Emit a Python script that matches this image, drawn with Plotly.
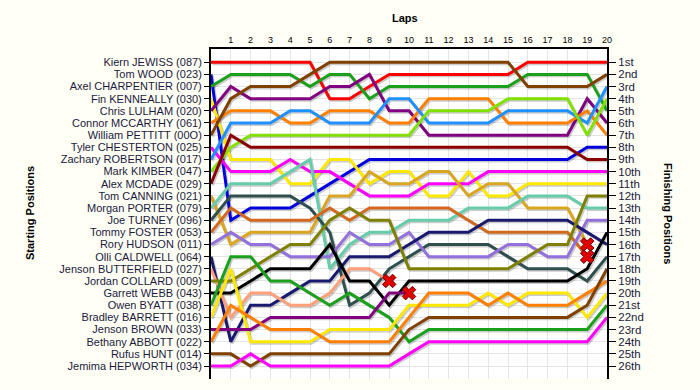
import plotly.graph_objects as go

laps = list(range(21))

drivers = [
    "Kiern JEWISS (087)", "Tom WOOD (023)", "Axel CHARPENTIER (007)", "Fin KENNEALLY (030)",
    "Chris LULHAM (020)", "Connor MCCARTHY (061)", "William PETTITT (00O)", "Tyler CHESTERTON (025)",
    "Zachary ROBERTSON (017)", "Mark KIMBER (047)", "Alex MCDADE (029)", "Tom CANNING (021)",
    "Morgan PORTER (079)", "Joe TURNEY (096)", "Tommy FOSTER (053)", "Rory HUDSON (011)",
    "Olli CALDWELL (064)", "Jenson BUTTERFIELD (027)", "Jordan COLLARD (009)", "Garrett WEBB (043)",
    "Owen BYATT (038)", "Bradley BARRETT (016)", "Jenson BROWN (033)", "Bethany ABBOTT (022)",
    "Rufus HUNT (014)", "Jemima HEPWORTH (034)",
]

finish_labels = ["1st", "2nd", "3rd", "4th", "5th", "6th", "7th", "8th", "9th", "10th",
                 "11th", "12th", "13th", "14th", "15th", "16th", "17th", "18th", "19th",
                 "20th", "21st", "22nd", "23rd", "24th", "25th", "26th"]

# position per lap (lap 0 .. last lap completed / retirement lap)
pos_jewiss = [1, 1, 1, 1, 1, 1, 4, 4, 3, 2, 2, 2, 2, 2, 2, 2, 1, 1, 1, 1, 1]
pos_wood = [2, 14, 13, 13, 13, 12, 11, 10, 9, 9, 9, 9, 9, 9, 9, 9, 9, 9, 9, 8, 8]
pos_charpentier = [3, 2, 2, 2, 2, 3, 2, 2, 4, 3, 3, 3, 3, 3, 3, 3, 2, 2, 2, 2, 5]
pos_kenneally = [4, 9, 9, 9, 11, 11, 9, 9, 11, 10, 10, 12, 12, 10, 12, 12, 11, 11, 11, 11, 11]
pos_lulham = [5, 3, 4, 4, 4, 4, 3, 3, 2, 5, 5, 7, 7, 7, 7, 7, 7, 7, 7, 4, 6]
pos_mccarthy = [6, 5, 5, 5, 6, 6, 5, 5, 5, 6, 6, 4, 4, 4, 4, 6, 6, 6, 6, 5, 7]
pos_pettitt = [7, 4, 3, 3, 3, 2, 1, 1, 1, 1, 1, 1, 1, 1, 1, 1, 3, 3, 3, 3, 2]
pos_chesterton = [8, 10, 10, 10, 9, 10, 10, 11, 12, 12, 12, 11, 11, 11, 10, 10, 10, 10, 10, 10, 10]
pos_robertson = [9, 6, 6, 6, 5, 5, 6, 6, 6, 4, 4, 6, 6, 6, 6, 5, 5, 5, 5, 6, 3]
pos_kimber = [10, 8, 7, 7, 7, 7, 7, 7, 7, 7, 7, 5, 5, 5, 5, 4, 4, 4, 4, 7, 4]
pos_mcdade = [11, 7, 8, 8, 8, 8, 8, 8, 8, 8, 8, 8, 8, 8, 8, 8, 8, 8, 8, 9, 9]
pos_canning = [12, 16, 15, 15, 15, 15, 12, 12, 10, 11, 11, 10, 10, 12, 11, 11, 13, 13, 13, 16]
pos_porter = [13, 11, 11, 11, 10, 9, 18, 16, 15, 15, 14, 14, 14, 13, 13, 13, 12, 12, 12, 13, 13]
pos_turney = [14, 12, 12, 12, 12, 13, 15, 21, 20, 18, 17, 16, 16, 16, 16, 17, 18, 18, 18, 19, 17]
pos_foster = [15, 13, 14, 14, 14, 14, 13, 14, 13, 13, 13, 13, 13, 14, 15, 15, 15, 15, 15, 17]
pos_hudson = [16, 15, 16, 16, 17, 17, 17, 15, 16, 16, 15, 17, 17, 17, 17, 16, 16, 17, 17, 14, 14]
pos_caldwell = [17, 24, 21, 21, 20, 19, 19, 17, 17, 17, 16, 15, 15, 15, 14, 14, 14, 14, 14, 15, 16]
pos_butterfield = [18, 22, 20, 20, 21, 21, 20, 18, 18, 19]
pos_collard = [19, 19, 18, 17, 16, 16, 14, 13, 14, 14, 18, 18, 18, 18, 18, 18, 17, 16, 16, 12, 12]
pos_webb = [20, 20, 19, 18, 18, 18, 16, 19, 19, 21, 19, 19, 19, 19, 19, 19, 19, 19, 19, 18, 15]
pos_byatt = [21, 17, 17, 19, 19, 20, 21, 20, 21, 22, 24, 23, 23, 23, 23, 23, 23, 23, 23, 23, 21]
pos_barrett = [22, 18, 24, 24, 24, 24, 23, 23, 23, 23, 21, 21, 21, 21, 20, 21, 20, 20, 20, 22, 20]
pos_brown = [23, 23, 23, 22, 22, 22, 22, 22, 22, 20, 20]
pos_abbott = [24, 21, 22, 23, 23, 23, 24, 24, 24, 24, 22, 20, 20, 20, 21, 20, 21, 21, 21, 20, 19]
pos_hunt = [25, 25, 26, 25, 25, 25, 25, 25, 25, 25, 23, 22, 22, 22, 22, 22, 22, 22, 22, 21, 18]
pos_hepworth = [26, 26, 25, 26, 26, 26, 26, 26, 26, 26, 25, 24, 24, 24, 24, 24, 24, 24, 24, 24, 22]

retired = ["Tom CANNING (021)", "Tommy FOSTER (053)", "Jenson BUTTERFIELD (027)", "Jenson BROWN (033)"]

series = [pos_jewiss, pos_wood, pos_charpentier, pos_kenneally, pos_lulham, pos_mccarthy,
          pos_pettitt, pos_chesterton, pos_robertson, pos_kimber, pos_mcdade, pos_canning,
          pos_porter, pos_turney, pos_foster, pos_hudson, pos_caldwell, pos_butterfield,
          pos_collard, pos_webb, pos_byatt, pos_barrett, pos_brown, pos_abbott, pos_hunt,
          pos_hepworth]

colors = ["#FF0000", "#0000DD", "#1AA01A", "#FFE800", "#800080", "#FF8000", "#804000", "#FF00FF",
          "#2090FF", "#80E000", "#8B0000", "#DAA520", "#66CDAA", "#2F4F4F", "#D2691E", "#9370DB",
          "#191970", "#FFA07A", "#808000", "#000000",
          "#1AA01A", "#FFE800", "#800080", "#FF8000", "#804000", "#FF00FF"]

FONT = "Liberation Sans, Arial, sans-serif"
fig = go.Figure()

# shadows
for name, p in zip(drivers, series):
    fig.add_trace(go.Scatter(
        x=[l + 0.07 for l in laps[:len(p)]], y=[v + 0.12 for v in p], mode="lines",
        line=dict(color="rgba(0,0,0,0.2)", width=3), hoverinfo="skip", showlegend=False))

for name, p, c in zip(drivers, series, colors):
    fig.add_trace(go.Scatter(
        x=laps[:len(p)], y=p, mode="lines", name=name,
        line=dict(color=c, width=3), showlegend=False))

for name, p in zip(drivers, series):
    if name in retired:
        fig.add_trace(go.Scatter(
            x=[laps[len(p) - 1]], y=[p[-1]], mode="markers",
            marker=dict(symbol="x", size=12, color="#E00000",
                        line=dict(color="#700000", width=1)),
            showlegend=False, hoverinfo="skip"))

# invisible trace for right axis
fig.add_trace(go.Scatter(x=[0], y=[1], yaxis="y2", mode="markers",
                         marker=dict(opacity=0), showlegend=False, hoverinfo="skip"))

yrange = [27.07, -0.09]
ticks = list(range(1, 27))
L, R, T, B = 211, 93, 49, 11
pw, ph = 700 - L - R, 390 - T - B

fig.update_layout(
    width=700, height=390,
    margin=dict(l=L, r=R, t=T, b=B, autoexpand=False),
    paper_bgcolor="#FFFFF5", plot_bgcolor="#FFFFFF",
    font=dict(family=FONT, color="#000000"),
    xaxis=dict(range=[0, 20], side="top", tickvals=list(range(1, 21)),
               ticktext=[str(i) for i in range(1, 21)], tickfont=dict(size=9),
               showgrid=True, gridcolor="#E4E4E4", gridwidth=1, zeroline=False, automargin=False,
               showline=True, linecolor="#000000", linewidth=2, ticks="", fixedrange=True),
    yaxis=dict(range=yrange, tickvals=ticks, ticktext=drivers, tickfont=dict(size=11, color="#1a1a40"),
               ticks="outside", ticklen=5, tickcolor="#000000", showgrid=True, gridcolor="#E4E4E4",
               zeroline=False, showline=True, linecolor="#000000", linewidth=2, automargin=False),
    yaxis2=dict(range=yrange, overlaying="y", side="right", tickvals=ticks, ticktext=finish_labels,
                tickfont=dict(size=11.5, color="#1a1a40"), ticks="outside", ticklen=7,
                tickcolor="#000000", showgrid=False, zeroline=False, showline=True, automargin=False,
                linecolor="#000000", linewidth=2),
    annotations=[
        dict(text="<b>Laps</b>", x=(405 - L) / pw, y=(379 - 18) / ph, xref="paper", yref="paper",
             xanchor="center", yanchor="middle", showarrow=False, font=dict(size=11)),
        dict(text="<b>Starting Positions</b>", x=(30 - L) / pw, y=(379 - 213) / ph,
             xref="paper", yref="paper", xanchor="center", yanchor="middle",
             showarrow=False, textangle=-90, font=dict(size=11)),
        dict(text="<b>Finishing Positions</b>", x=(668 - L) / pw, y=(379 - 213) / ph,
             xref="paper", yref="paper", xanchor="center", yanchor="middle",
             showarrow=False, textangle=90, font=dict(size=11)),
    ],
)

fig.write_html("out.html", config={"displayModeBar": False},
               post_script="document.body.style.margin='0';document.body.style.overflow='hidden';")
